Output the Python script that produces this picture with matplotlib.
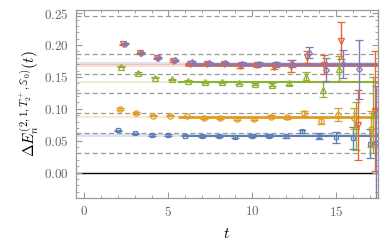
import numpy as np
import matplotlib
matplotlib.use('Agg')
import matplotlib.pyplot as plt
from matplotlib.ticker import MultipleLocator, FuncFormatter

plt.rcParams['mathtext.fontset'] = 'cm'
plt.rcParams['font.family'] = ['DejaVu Serif']

# time slices
t = np.arange(2, 18)

# effective energies per level
e_blue = [0.066, 0.0615, 0.059, 0.059, 0.058, 0.057, 0.057, 0.056, 0.058, 0.058,
          0.0567, 0.0645, 0.057, 0.055, 0.054, 0.045]
err_blue = [0.001, 0.001, 0.001, 0.001, 0.001, 0.0012, 0.0014, 0.0015, 0.0017, 0.002,
            0.0022, 0.003, 0.005, 0.008, 0.017, 0.023]

e_orange = [0.0995, 0.0933, 0.089, 0.089, 0.088, 0.0855, 0.0855, 0.084, 0.084, 0.0875,
            0.0865, 0.0933, 0.081, 0.0906, 0.085, 0.068]
err_orange = [0.001, 0.001, 0.001, 0.001, 0.001, 0.0012, 0.0014, 0.0015, 0.0017, 0.002,
              0.0025, 0.004, 0.005, 0.010, 0.017, 0.028]

e_green = [0.166, 0.156, 0.149, 0.146, 0.144, 0.142, 0.142, 0.140, 0.139, 0.1375,
           0.140, 0.150, 0.130, 0.163, 0.073, 0.09]
err_green = [0.001, 0.001, 0.001, 0.001, 0.001, 0.0012, 0.0014, 0.0016, 0.002, 0.0025,
             0.003, 0.007, 0.012, 0.02, 0.038, 0.06]

e_red = [0.201, 0.187, 0.179, 0.175, 0.171, 0.170, 0.170, 0.167, 0.169, 0.166,
         0.167, 0.181, 0.169, 0.207, 0.075, 0.097]
err_red = [0.001, 0.001, 0.001, 0.0012, 0.0014, 0.0016, 0.002, 0.0025, 0.003, 0.004,
           0.009, 0.009, 0.015, 0.029, 0.055, 0.094]

e_purple = [0.202, 0.188, 0.180, 0.176, 0.174, 0.172, 0.172, 0.171, 0.171, 0.170,
            0.171, 0.188, 0.161, 0.170, 0.162, 0.047]
err_purple = [0.001, 0.001, 0.001, 0.0012, 0.0014, 0.0016, 0.002, 0.0025, 0.003, 0.004,
              0.006, 0.009, 0.018, 0.022, 0.046, 0.089]

# fitted energies and fit windows
fit_vals = [0.058, 0.087, 0.142, 0.168, 0.171]
fit_start = [6.0, 5.6, 5.6, 6.0, 6.0]

# non-interacting reference levels
ref_levels = [0.0313, 0.0625, 0.094, 0.125, 0.155, 0.186, 0.245]

series = [(e_blue, err_blue), (e_orange, err_orange), (e_green, err_green),
          (e_red, err_red), (e_purple, err_purple)]
colors = ['#5E81B5', '#E19C24', '#8FB032', '#EB6235', '#8778B3']
markers = ['s', 'o', '^', 'v', 'D']
msizes = [3.4, 3.8, 3.8, 3.8, 3.0]
offsets = [0.0, 0.1, 0.2, 0.3, 0.4]
fit_lw = [1.5, 2.0, 1.5, 2.0, 2.0]

xmin, xmax = -0.5, 17.5

fig = plt.figure(figsize=(3.9, 2.48), dpi=100)
ax = fig.add_axes([0.195, 0.2016, 0.774, 0.758])

for y in ref_levels:
    ax.axhline(y, color='#999999', lw=0.9, ls=(0, (4, 2.5)), zorder=1)
ax.axhline(0.0, color='black', lw=1.0, zorder=1)

xx = np.array([xmin, xmax])
for i, fv in enumerate(fit_vals):
    ax.fill_between(xx, fv - 0.0022, fv + 0.0022, color=colors[i], alpha=0.22,
                    lw=0, zorder=2)
    ax.plot([fit_start[i], xmax], [fv, fv], color=colors[i], lw=fit_lw[i],
            solid_capstyle='butt', zorder=3)

for i, (e, err) in enumerate(series):
    ax.errorbar(t + offsets[i], e, yerr=err, fmt=markers[i], color=colors[i],
                mfc='none', mec=colors[i], ms=msizes[i], mew=0.9,
                elinewidth=1.0, capsize=2.8, capthick=1.0, zorder=4 + i)

ax.set_xlim(xmin, xmax)
ax.set_ylim(-0.04, 0.255)

ax.xaxis.set_major_locator(MultipleLocator(5))
ax.xaxis.set_minor_locator(MultipleLocator(1))
ax.yaxis.set_major_locator(MultipleLocator(0.05))
ax.yaxis.set_minor_locator(MultipleLocator(0.01))
ax.xaxis.set_major_formatter(FuncFormatter(lambda v, p: f'${v:.0f}$'))
ax.yaxis.set_major_formatter(FuncFormatter(lambda v, p: f'${v:.2f}$'))

ax.tick_params(which='both', direction='in', top=True, right=True,
               color='#999999', labelcolor='#666666', labelsize=9.5)
ax.tick_params(which='major', length=4, width=0.8, pad=5)
ax.tick_params(which='minor', length=2, width=0.6)
for s in ax.spines.values():
    s.set_color('#999999')
    s.set_linewidth(0.9)

ax.set_xlabel('$t$', fontsize=11, labelpad=6)
ax.set_ylabel(r'$\Delta E_n^{(2,1,T_2^+,\mathbb{S}_0)}(t)$', fontsize=11, labelpad=2)

fig.savefig('out.png', dpi=100)
